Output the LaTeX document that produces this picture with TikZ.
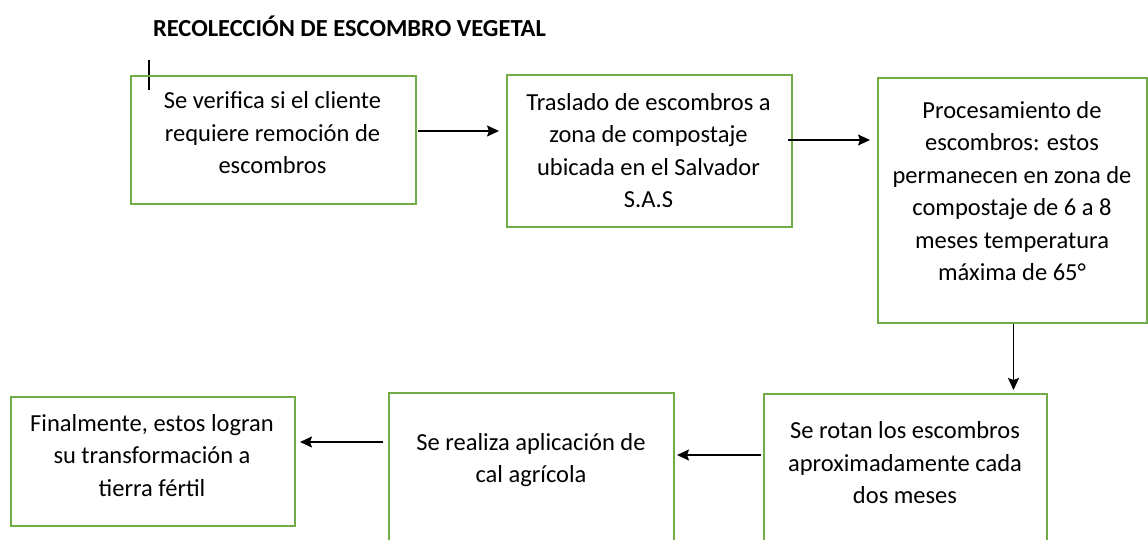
\documentclass[tikz,border=0pt]{standalone}
\usepackage{fontspec}
\setmainfont{Carlito}
\usetikzlibrary{arrows.meta}
\definecolor{boxgreen}{HTML}{70AD47}

\begin{document}
\begin{tikzpicture}[x=1pt, y=-1pt,
		box/.style={draw=boxgreen, line width=2pt, rectangle, inner sep=0pt, anchor=north west},
		txt/.style={align=center, font=\fontsize{24.5}{32.5}\selectfont},
		arrow/.style={->, >={Stealth[length=12pt,width=11pt,inset=2pt]}, line width=1.8pt}]
	\useasboundingbox (0,0) rectangle (1148,540);
	\clip (0,0) rectangle (1148,540);
	\node[font=\fontsize{24.5}{30}\selectfont\bfseries] (title) at (349.5,26) {RECOLECCIÓN DE ESCOMBRO VEGETAL};
	\draw[line width=1.3pt] (149,60) -- (149,90);
	% boxes
	\node[box, minimum width=285, minimum height=128] (b1) at (130,75) {};
	\node[box, minimum width=285, minimum height=152] (b2) at (506,74) {};
	\node[box, minimum width=269, minimum height=245] (b3) at (877,77) {};
	\node[box, minimum width=283, minimum height=167] (b4) at (763,393) {};
	\node[box, minimum width=285, minimum height=168] (b5) at (388,392) {};
	\node[box, minimum width=284, minimum height=129] (b6) at (10,396) {};
	% texts
	\node[txt] (t1) at (272.5,133) {Se verifica si el cliente\\requiere remoción de\\escombros};
	\node[txt] (t2) at (648.5,150.5) {Traslado de escombros a\\zona de compostaje\\ubicada en el Salvador\\S.A.S};
	\node[txt] (t3) at (1012,191) {Procesamiento de\\escombros: estos\\permanecen en zona de\\compostaje de 6 a 8\\meses temperatura\\máxima de 65°};
	\node[txt] (t4) at (905,463) {Se rotan los escombros\\aproximadamente cada\\dos meses};
	\node[txt] (t5) at (531,460) {Se realiza aplicación de\\cal agrícola};
	\node[txt] (t6) at (152,455.5) {Finalmente, estos logran\\su transformación a\\tierra fértil};
	% arrows
	\draw[arrow, shorten >=7pt] ([xshift=1pt,yshift=9pt]b1.east) -- ([yshift=9pt]b1.east -| b2.west);
	\draw[arrow, shorten >=7pt] ([xshift=-5pt,yshift=11pt]b2.east) -- ([yshift=11pt]b2.east -| b3.west);
	\draw[arrow, shorten >=3pt] ([xshift=1pt]b3.south) -- ([xshift=1pt]b3.south |- b4.north);
	\draw[arrow, shorten >=2pt] ([xshift=-2pt,yshift=22.5pt]b4.west) -- ([yshift=22.5pt]b4.west -| b5.east);
	\draw[arrow, shorten >=4pt] ([xshift=-5pt,yshift=35pt]b5.west) -- ([yshift=35pt]b5.west -| b6.east);
\end{tikzpicture}
\end{document}
